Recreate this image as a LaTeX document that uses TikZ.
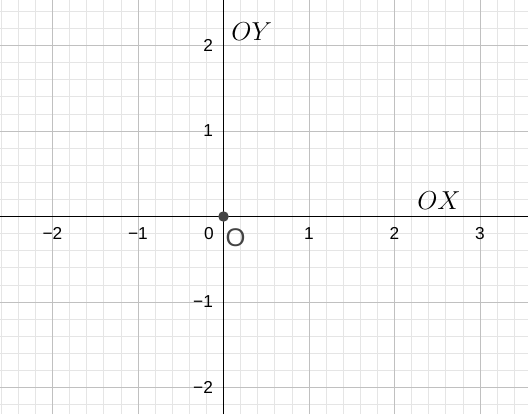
\documentclass[tikz,border=0pt]{standalone}
\usepackage{fontspec}
\setsansfont{Liberation Sans}
\usetikzlibrary{positioning}

\definecolor{minorgrid}{RGB}{229,229,229}
\definecolor{majorgrid}{RGB}{192,192,192}
\definecolor{pointgray}{RGB}{68,68,68}

\begin{document}
\begin{tikzpicture}[
		x=2cm, y=2cm,
		minorline/.style={draw=minorgrid, line width=0.5pt},
		majorline/.style={draw=majorgrid, line width=0.6pt},
		axisline/.style={draw=black, line width=0.9pt},
		ticklabel/.style={font=\sffamily\fontsize{11.5}{13}\selectfont, inner sep=0pt},
		axislabel/.style={font=\fontsize{18.5}{20}\selectfont, inner sep=0pt},
		pointlabel/.style={font=\sffamily\fontsize{17}{19}\selectfont, text=pointgray, inner sep=0pt}
	]

	\useasboundingbox (-2.614,-2.310) rectangle (3.561,2.532);

	% Grid
	\draw[minorline] (-2.614,-2.310) grid[step=0.2] (3.561,2.532);
	\draw[majorline] (-2.614,-2.310) grid[step=1] (3.561,2.532);

	% Axes
	\coordinate (west) at (-2.614,0);
	\coordinate (east) at (3.561,0);
	\coordinate (south) at (0,-2.310);
	\coordinate (north) at (0,2.532);
	\draw[axisline] (west) -- (east);
	\draw[axisline] (south) -- (north);

	% Tick labels
	\foreach \x/\t [count=\i] in {-2/−2, -1/−1, 1/1, 2/2, 3/3}
		\node[ticklabel] (xtick\i) at (\x,-0.2) {\t};
	\foreach \y/\t [count=\i] in {-2/−2, -1/−1, 1/1, 2/2}
		\node[ticklabel, anchor=east] (ytick\i) at (-0.12,\y) {\t};
	\node[ticklabel] (zero) at (-0.17,-0.2) {0};

	% Origin
	\node[circle, fill=pointgray, inner sep=0pt, minimum size=7pt] (origin) at (0,0) {};
	\node[pointlabel] (olabel) at (0.14,-0.25) {O};

	% Axis names
	\node[axislabel] (oy) at (0.33,2.16) {$OY$};
	\node[axislabel] (ox) at (2.52,0.18) {$OX$};

\end{tikzpicture}
\end{document}
